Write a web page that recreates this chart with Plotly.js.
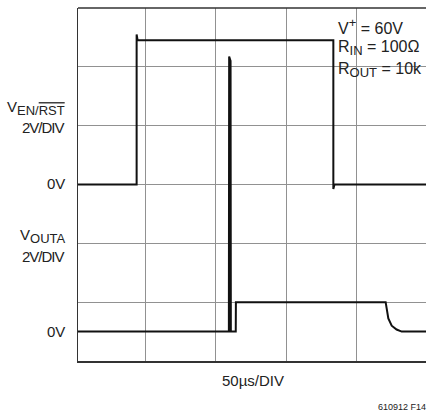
<!DOCTYPE html>
<html>
<head>
<meta charset="utf-8">
<script src="https://cdn.plot.ly/plotly-3.0.1.min.js"></script>
<style>html,body{margin:0;padding:0;background:#fff;}#chart{width:428px;height:414px;}</style>
</head>
<body>
<div id="chart"></div>
<script>
// Time in microseconds, voltage in volts
var enTime  = [2, 43.7, 43.7, 44.4, 183.6, 183.6, 184.4, 249.5];
var enVolts = [0, 0, 5.1, 4.9, 4.9, -0.15, 0, 0];

var outTime  = [2, 109.3, 109.5, 110.5, 110.7, 114.2, 114.3, 220.8, 221.5, 222.7, 225.1, 228.6, 232.2, 249.5];
var outVolts = [0, 0, 9.35, 9.2, 0, 0, 1.0, 1.0, 0.8, 0.45, 0.2, 0.07, 0, 0];

function sub(s, size) { return '<sub><span style="font-size:' + size + 'px">' + s + '</span></sub>'; }
function sup(s, size) { return '<sup><span style="font-size:' + size + 'px">' + s + '</span></sup>'; }
var enLabel   = 'V' + '<sub><span style="font-size:13px">EN/<span style="text-decoration:overline">RST</span></span></sub>';
var outLabel  = 'V' + sub('OUTA', 13);
var divLabel  = '<span style="letter-spacing:-1px">2V/DIV</span>';
var zeroLabel = '0V';
var timeLabel = '50µs/DIV';
var figLabel  = '610912 F14';
var condLabels = ['V' + sup('+', 13) + ' = 60V', 'R' + sub('IN', 13) + ' = 100Ω', 'R' + sub('OUT', 13) + ' = 10k'];

var W = 428, H = 414, ML = 78, MR = 2, MT = 8, MB = 53;
var PW = W - ML - MR, PH = H - MT - MB;
function px(x) { return (x - ML) / PW; }
function py(y) { return 1 - (y - MT) / PH; }

var FONT = '"Liberation Sans", Arial, Helvetica, sans-serif';

var traces = [
  {x: enTime, y: enVolts, type: 'scatter', mode: 'lines', yaxis: 'y',
   line: {color: '#111', width: 2}, hoverinfo: 'skip', showlegend: false},
  {x: outTime, y: outVolts, type: 'scatter', mode: 'lines', yaxis: 'y2',
   line: {color: '#111', width: 2}, hoverinfo: 'skip', showlegend: false}
];

function ann(text, x, y, xanchor, size) {
  return {text: text, xref: 'paper', yref: 'paper', x: x, y: y,
          xanchor: xanchor, yanchor: 'middle', showarrow: false,
          font: {family: FONT, size: size || 15, color: '#222'}};
}

var annotations = [
  ann(enLabel, px(67), py(108.5), 'right'),
  ann(divLabel, px(67), py(127), 'right'),
  ann(zeroLabel, px(67), py(184), 'right'),
  ann(outLabel, px(67), py(236), 'right'),
  ann(divLabel, px(67), py(256), 'right'),
  ann(zeroLabel, px(67), py(331), 'right'),
  ann(timeLabel, px(253), py(380), 'center'),
  ann(figLabel, px(427.5), py(407), 'right', 9)
];
var condY = [26, 48.5, 69.5];
for (var i = 0; i < condLabels.length; i++) {
  annotations.push(ann(condLabels[i], px(336), py(condY[i]), 'left', 16));
}

var layout = {
  width: W, height: H,
  margin: {l: ML, r: MR, t: MT, b: MB, pad: 0},
  paper_bgcolor: '#fff', plot_bgcolor: '#fff',
  font: {family: FONT, size: 15, color: '#222'},
  xaxis: {range: [2, 249.5], tick0: 0, dtick: 50, showgrid: true, gridcolor: '#919191', gridwidth: 1,
          zeroline: false, showticklabels: false, ticks: '', showline: true, linecolor: '#333', linewidth: 1.5,
          fixedrange: true},
  yaxis: {range: [-6, 6], tick0: 0, dtick: 2, showgrid: true, gridcolor: '#919191', gridwidth: 1,
          zeroline: false, showticklabels: false, ticks: '', showline: true, linecolor: '#333', linewidth: 1.5,
          fixedrange: true},
  yaxis2: {range: [-1, 11], overlaying: 'y', showgrid: false, zeroline: false, showticklabels: false,
           ticks: '', showline: false, fixedrange: true},
  shapes: [
    {type: 'line', xref: 'paper', yref: 'paper', x0: 0, x1: 1, y0: 1, y1: 1,
     line: {color: '#333', width: 1.5}}
  ],
  annotations: annotations
};

Plotly.newPlot('chart', traces, layout, {staticPlot: true, displayModeBar: false});
</script>
</body>
</html>
